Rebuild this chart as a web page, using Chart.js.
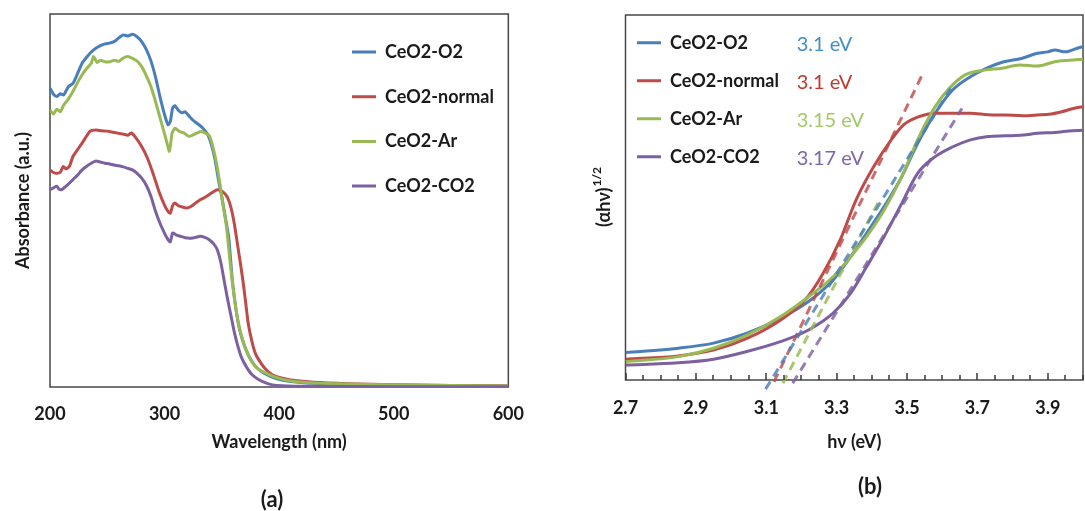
<!DOCTYPE html>
<html>
<head>
<meta charset="utf-8">
<script src="https://cdn.jsdelivr.net/npm/chart.js@4.4.1/dist/chart.umd.min.js"></script>
<style>
html, body { margin: 0; padding: 0; background: #fff; overflow: hidden; width: 1085px; height: 511px; }
canvas { position: absolute; top: 0; }
#chartA { left: 0; }
#chartB { left: 540px; }
.cap { position: absolute; font: bold 22px Lato, sans-serif; color: #1a1a1a; transform: translate(-50%, -50%); }
</style>
</head>
<body>
<canvas id="chartA" width="540" height="511"></canvas>
<canvas id="chartB" width="560" height="511"></canvas>
<div class="cap" style="left:272px;top:498px">(a)</div>
<div class="cap" style="left:870px;top:485px">(b)</div>
<script>
var seriesNames = ['CeO2-O2', 'CeO2-normal', 'CeO2-Ar', 'CeO2-CO2'];
var lineColors = ['#4a7ebb', '#be4b48', '#98b954', '#7d60a0'];
var gapLabels = ['3.1 eV', '3.1 eV', '3.15 eV', '3.17 eV'];
var gapColors = ['#3f8fc9', '#c0392f', '#a3c868', '#8064a8'];

// (a) absorbance vs wavelength (nm), arbitrary units
var o2Wl = [200, 203, 206, 209, 212, 216, 220, 224, 228, 232, 236, 240, 244, 248, 252, 256, 260, 264, 268, 272, 276, 280, 284, 288, 292, 296, 300, 303, 305, 307, 309, 312, 315, 318, 322, 326, 330, 334, 338, 341, 344, 347, 350, 353, 356, 359, 362, 365, 368, 371, 375, 380, 388, 398, 410, 430, 460, 500, 550, 600];
var o2Abs = [80.1, 78.5, 77.9, 78.6, 78.3, 80.5, 81.4, 84, 86.8, 88.4, 89.8, 90.8, 91.5, 92.0, 92.2, 92.6, 93.6, 94.4, 94.1, 94.6, 93.9, 92.6, 90.5, 87.5, 83.2, 77.8, 73, 70.3, 71.2, 74.8, 75.4, 74.2, 73.5, 73.8, 72.4, 71.2, 70.3, 69.2, 67.5, 64.8, 61, 55.6, 50.8, 45.5, 40, 29, 21.5, 16, 12.6, 10, 7.5, 5.3, 3.5, 2.2, 1.5, 1.0, 0.7, 0.5, 0.4, 0.3];

var normalWl = [200, 203, 206, 209, 211.5, 214, 217, 220, 224, 228, 232, 235, 240, 245, 250, 255, 260, 264, 268, 271, 275, 280, 285, 290, 295, 300, 303, 305, 307, 309, 312, 315, 319, 323, 327, 331, 335, 339, 343, 346, 349, 352, 355, 358, 361, 364, 366.5, 369, 371, 373, 376, 379, 382, 388, 394, 402, 410, 430, 460, 500, 550, 600];
var normalAbs = [58.2, 57.5, 57.3, 57.6, 59.1, 58.5, 59.2, 61.8, 63.6, 65.4, 67.3, 68.6, 68.9, 68.7, 68.6, 68.3, 68.0, 67.8, 67.5, 68.1, 66.8, 64.5, 61.4, 57.2, 52.5, 48.7, 47.1, 46.6, 48.6, 49.3, 48.6, 48.3, 48.0, 48.4, 49.3, 50.2, 50.8, 51.6, 52.4, 52.9, 52.7, 52.0, 50.8, 48.0, 43.5, 37.5, 32.5, 27, 22, 17, 12.5, 9.2, 7.4, 4.8, 3.3, 2.4, 1.9, 1.3, 0.9, 0.6, 0.4, 0.3];

var arWl = [200, 203, 206, 209, 212, 216, 220, 224, 228, 232, 236, 238, 241, 244, 248, 252, 256, 260, 264, 268, 272, 276, 280, 284, 288, 292, 296, 300, 302, 304, 305, 306.5, 309, 313, 317, 321, 325, 329, 332, 336, 339, 342, 345, 348, 351, 354, 357, 360, 363, 366, 369, 372, 376, 381, 388, 398, 410, 430, 460, 500, 550, 600];
var arAbs = [74.3, 73.2, 74.5, 73.8, 75.6, 77.2, 79.2, 81.6, 83.7, 85.4, 86.8, 88.6, 87.0, 87.6, 87.2, 87.2, 87.6, 87.3, 88.2, 88.6, 88.1, 87.4, 85.9, 83.5, 80.6, 76.6, 72.2, 67.8, 65.5, 63.2, 64.5, 68, 69.4, 68.5, 68.1, 67.2, 67.6, 68.2, 68.5, 68.0, 67.4, 64.6, 60.5, 55, 49, 43, 34, 26, 19.5, 15, 11.8, 9.3, 6.8, 5.0, 3.8, 2.5, 1.6, 1.1, 0.8, 0.6, 0.4, 0.3];

var co2Wl = [200, 203, 206, 208, 210, 213, 216, 220, 224, 228, 232, 236, 240, 244, 248, 252, 256, 260, 264, 268, 272, 276, 280, 284, 288, 292, 296, 300, 303, 305, 307, 310, 314, 318, 323, 327, 331, 335, 339, 343, 346, 349, 352, 355, 358, 361, 364, 367, 371, 376, 382, 390, 398, 420, 500, 600];
var co2Abs = [52.9, 53.4, 53.8, 53.0, 52.9, 53.6, 54.4, 55.6, 56.8, 58.2, 59.2, 60, 60.6, 60.3, 60.0, 59.8, 59.5, 59.3, 59.0, 58.6, 58.2, 57.3, 56, 54.1, 51.2, 47.2, 43.9, 41.2, 39.5, 38.9, 41.3, 40.8, 40.4, 40.0, 39.9, 40.1, 40.4, 40.1, 39.5, 38.3, 36.8, 33.5, 28.5, 23.5, 19, 14.5, 10.9, 8, 5.6, 3.4, 2.0, 0.9, 0.4, 0.2, 0.1, 0.1];

var wlTicks = [200, 300, 400, 500, 600];

// (b) Tauc plot, photon energy (eV) vs (ahv)^1/2 in arbitrary units
var o2Ev = [2.70, 2.85, 2.95, 3.045, 3.14, 3.22, 3.29, 3.34, 3.385, 3.435, 3.485, 3.53, 3.58, 3.63, 3.68, 3.725, 3.775, 3.825, 3.87, 3.90, 3.92, 3.95, 3.99, 4.00];
var o2Tauc = [7.5, 8.7, 10.1, 12.8, 16.9, 21.5, 27.4, 33.8, 40.2, 47.5, 55.7, 64.8, 73.1, 79.5, 83.1, 85.4, 87.2, 88.1, 89.5, 89.9, 90.4, 89.9, 91.1, 91.3];

var normalEv = [2.70, 2.85, 2.95, 3.045, 3.14, 3.21, 3.26, 3.31, 3.355, 3.405, 3.455, 3.49, 3.53, 3.58, 3.63, 3.68, 3.73, 3.78, 3.83, 3.87, 3.91, 3.94, 3.97, 4.00];
var normalTauc = [5.7, 6.6, 8.2, 11.4, 16.4, 21.9, 29.0, 38.4, 49.3, 58.4, 65.8, 69.9, 72.0, 73.1, 73.1, 73.1, 72.7, 72.6, 72.4, 72.6, 72.9, 73.5, 74.3, 74.9];

var arEv = [2.70, 2.85, 2.95, 3.045, 3.14, 3.22, 3.29, 3.34, 3.385, 3.435, 3.485, 3.53, 3.58, 3.62, 3.665, 3.72, 3.77, 3.82, 3.87, 3.92, 3.96, 4.00];
var arTauc = [5.0, 6.4, 8.7, 12.3, 17.3, 22.8, 28.3, 33.8, 39.3, 46.6, 55.7, 65.8, 74.9, 79.9, 83.6, 84.9, 85.4, 86.3, 86.0, 87.2, 87.6, 87.9];

var co2Ev = [2.70, 2.85, 2.95, 3.045, 3.14, 3.22, 3.29, 3.34, 3.385, 3.435, 3.485, 3.53, 3.58, 3.63, 3.68, 3.73, 3.78, 3.83, 3.87, 3.92, 3.96, 4.00];
var co2Tauc = [4.1, 4.7, 5.7, 7.8, 10.5, 13.7, 18.3, 23.8, 31.0, 39.3, 48.4, 56.6, 61.2, 63.9, 65.8, 66.7, 66.9, 67.1, 67.6, 67.8, 68.2, 68.4];

// dashed tangent lines (two end points each)
var o2FitEv = [3.098, 3.624], o2FitY = [-2.5, 79.9];
var normalFitEv = [3.122, 3.543], normalFitY = [-0.5, 83.6];
var arFitEv = [3.147, 3.42], arFitY = [-0.9, 49];
var co2FitEv = [3.175, 3.656], co2FitY = [-0.9, 74.4];

Chart.defaults.font.family = 'Lato, sans-serif';
Chart.defaults.color = '#1a1a1a';

function pts(xs, ys) {
  return xs.map(function(x, i) { return {x: x, y: ys[i]}; });
}

var FS = 18;
var boldFont = {family: 'Lato, sans-serif', weight: 'bold', size: FS};

var boxPlugin = {
  id: 'box',
  beforeDatasetsDraw: function(chart) {
    var a = chart.chartArea, ctx = chart.ctx;
    ctx.save();
    ctx.strokeStyle = '#474747';
    ctx.lineWidth = 1.5;
    ctx.strokeRect(a.left, a.top, a.right - a.left, a.bottom - a.top);
    ctx.restore();
  }
};

// put the legend inside the plot box
function legendAt(x, y) {
  return {
    id: 'legendAt',
    afterLayout: function(chart) {
      var l = chart.legend;
      l.left = x; l.top = y;
      l.right = chart.width; l.bottom = chart.height;
    }
  };
}

function legendOpts(pad) {
  return {
    position: 'chartArea',
    align: 'start',
    labels: {
      usePointStyle: true, pointStyle: 'line', pointStyleWidth: 24,
      padding: pad, textAlign: 'left', color: '#1a1a1a', font: boldFont,
      filter: function(item, data) { return !data.datasets[item.datasetIndex].fit; },
      sort: function(a, b) { return a.datasetIndex - b.datasetIndex; }
    }
  };
}

var absData = [[o2Wl, o2Abs], [normalWl, normalAbs], [arWl, arAbs], [co2Wl, co2Abs]];
var taucData = [[o2Ev, o2Tauc], [normalEv, normalTauc], [arEv, arTauc], [co2Ev, co2Tauc]];
var fitData = [[o2FitEv, o2FitY], [normalFitEv, normalFitY], [arFitEv, arFitY], [co2FitEv, co2FitY]];

new Chart(document.getElementById('chartA'), {
  type: 'line',
  data: {
    datasets: absData.map(function(d, i) {
      return {
        label: seriesNames[i], data: pts(d[0], d[1]),
        borderColor: lineColors[i], backgroundColor: lineColors[i],
        borderWidth: 3, pointRadius: 0, tension: 0.2, order: 4 - i
      };
    })
  },
  options: {
    responsive: false, animation: false,
    layout: {padding: {top: 14, right: 24, left: 0, bottom: 0}},
    plugins: {legend: legendOpts(26.7), tooltip: {enabled: false}},
    scales: {
      x: {
        type: 'linear', min: 200, max: 600,
        afterBuildTicks: function(s) { s.ticks = wlTicks.map(function(v) { return {value: v}; }); },
        ticks: {padding: 16, color: '#1a1a1a', font: boldFont, maxRotation: 0},
        grid: {display: false, drawTicks: false}, border: {display: false},
        title: {display: true, text: 'Wavelength (nm)', color: '#1a1a1a', font: boldFont, padding: {top: 0, bottom: 58}},
        afterFit: function(s) { s.height = 124; }
      },
      y: {
        min: 0, max: 100,
        ticks: {display: false}, grid: {display: false, drawTicks: false}, border: {display: false},
        title: {display: true, text: 'Absorbance (a.u.)', color: '#1a1a1a', font: boldFont, padding: {top: 12, bottom: 0}},
        afterFit: function(s) { s.width = 50; }
      }
    }
  },
  plugins: [boxPlugin, legendAt(325.3, 16.3)]
});

// inward tick marks on the energy axis, every 0.05 eV
var tickMarks = {
  id: 'tickMarks',
  afterDatasetsDraw: function(chart) {
    var ctx = chart.ctx, xs = chart.scales.x, a = chart.chartArea;
    ctx.save();
    ctx.strokeStyle = '#3a3a3a';
    ctx.lineWidth = 1.5;
    ctx.beginPath();
    for (var k = 0; k <= Math.round((xs.max - xs.min) / 0.05); k++) {
      var px = Math.round(xs.getPixelForValue(xs.min + k * 0.05));
      ctx.moveTo(px, a.bottom);
      ctx.lineTo(px, a.bottom - (k % 4 === 0 ? 7 : 5));
    }
    ctx.stroke();
    ctx.restore();
  }
};

// band-gap values next to the legend, y title with superscript
var taucExtras = {
  id: 'taucExtras',
  afterDraw: function(chart) {
    var ctx = chart.ctx, l = chart.legend, pad = 20, a = chart.chartArea;
    ctx.save();
    ctx.font = '20px Lato, sans-serif';
    ctx.textAlign = 'left';
    ctx.textBaseline = 'middle';
    gapLabels.forEach(function(t, i) {
      ctx.fillStyle = gapColors[i];
      ctx.fillText(t, 256.7, l.top + pad + FS / 2 + i * (FS + pad) + 2);
    });
    ctx.translate(64, (a.top + a.bottom) / 2);
    ctx.rotate(-Math.PI / 2);
    ctx.fillStyle = '#1a1a1a';
    ctx.font = 'bold 18px Lato, sans-serif';
    var main = '(αhν)', sup = '1/2';
    var w1 = ctx.measureText(main).width;
    ctx.font = 'bold 12px Lato, sans-serif';
    var w2 = ctx.measureText(sup).width;
    var x0 = -(w1 + w2) / 2;
    ctx.font = 'bold 18px Lato, sans-serif';
    ctx.fillText(main, x0, 0);
    ctx.font = 'bold 12px Lato, sans-serif';
    ctx.fillText(sup, x0 + w1 + 1, -7);
    ctx.restore();
  }
};

var taucSets = taucData.map(function(d, i) {
  return {
    label: seriesNames[i], data: pts(d[0], d[1]),
    borderColor: lineColors[i], backgroundColor: lineColors[i],
    borderWidth: 3, pointRadius: 0, cubicInterpolationMode: 'monotone', order: 4 - i
  };
});
var fitSets = fitData.map(function(d, i) {
  return {
    label: seriesNames[i] + ' fit', fit: true, data: pts(d[0], d[1]),
    borderColor: lineColors[i] + 'd0', borderWidth: 3, borderDash: [9, 6],
    pointRadius: 0, clip: false, order: 0
  };
});

new Chart(document.getElementById('chartB'), {
  type: 'line',
  data: {datasets: taucSets.concat(fitSets)},
  options: {
    responsive: false, animation: false,
    layout: {padding: {top: 15, right: 10.4, left: 0, bottom: 0}},
    plugins: {legend: legendOpts(20), tooltip: {enabled: false}},
    scales: {
      x: {
        type: 'linear', min: 2.7, max: 4.0,
        ticks: {
          stepSize: 0.05, autoSkip: false, maxRotation: 0, padding: 17, color: '#1a1a1a', font: boldFont,
          callback: function(v, i) { return i % 4 === 0 ? v.toFixed(1) : ''; }
        },
        grid: {display: false, drawTicks: false},
        border: {display: false},
        title: {display: true, text: 'hν (eV)', color: '#1a1a1a', font: boldFont, padding: {top: 0, bottom: 58}},
        afterFit: function(s) { s.height = 131; }
      },
      y: {
        min: 0, max: 100,
        ticks: {display: false}, grid: {display: false, drawTicks: false}, border: {display: false},
        afterFit: function(s) { s.width = 85.5; }
      }
    }
  },
  plugins: [boxPlugin, legendAt(77, 13.7), tickMarks, taucExtras]
});
</script>
</body>
</html>
